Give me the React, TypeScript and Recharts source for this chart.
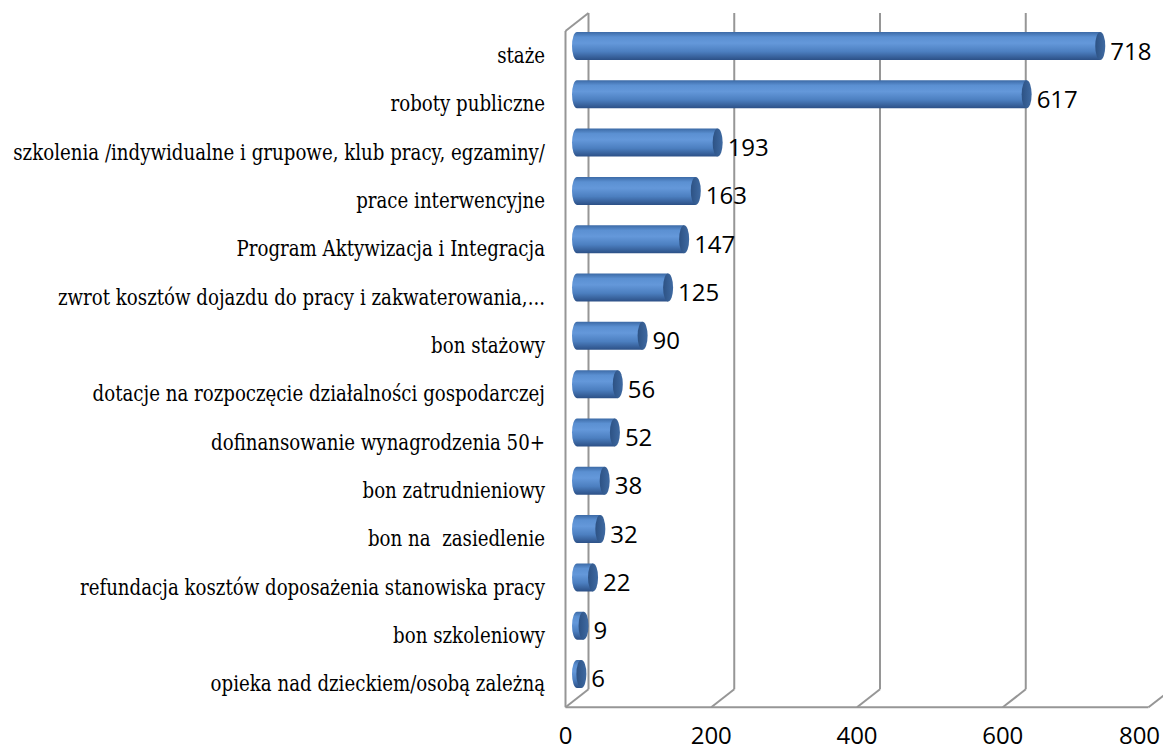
import { BarChart, Bar, XAxis, YAxis, CartesianGrid, LabelList } from "recharts";

const categories = [
  "staże",
  "roboty publiczne",
  "szkolenia /indywidualne i grupowe, klub pracy, egzaminy/",
  "prace interwencyjne",
  "Program Aktywizacja i Integracja",
  "zwrot kosztów dojazdu do pracy i zakwaterowania,...",
  "bon stażowy",
  "dotacje na rozpoczęcie działalności gospodarczej",
  "dofinansowanie wynagrodzenia 50+",
  "bon zatrudnieniowy",
  "bon na  zasiedlenie",
  "refundacja kosztów doposażenia stanowiska pracy",
  "bon szkoleniowy",
  "opieka nad dzieckiem/osobą zależną",
];
const values = [718, 617, 193, 163, 147, 125, 90, 56, 52, 38, 32, 22, 9, 6];
const xTicks = [0, 200, 400, 600, 800];

const data = categories.map((name, i) => ({ name, value: values[i] }));

// half of the 3D depth offset
const DX = 11.5;
const DY = 9;
const GRID = "#969696";
const NUM_FONT = "'Open Sans', sans-serif";
const CAT_FONT = "'DejaVu Serif', serif";

const Cylinder = (props: any) => {
  const { x, y, width, height } = props;
  const rx = 5;
  const ry = height / 2;
  const x1 = x + width;
  const d = `M${x},${y} L${x1},${y} L${x1},${y + height} L${x},${y + height} A${rx},${ry} 0 0 1 ${x},${y} Z`;
  return (
    <g>
      <path d={d} fill="url(#cylBody)" />
      <ellipse cx={x1} cy={y + ry} rx={rx} ry={ry} fill="url(#cylCap)" />
    </g>
  );
};

const ValueLabel = (props: any) => {
  const { x, y, width, height, value } = props;
  return (
    <text
      x={x + width + 10}
      y={y + height / 2 + 4}
      dominantBaseline="central"
      fontFamily={NUM_FONT}
      fontSize={24}
      fill="#000"
    >
      {value}
    </text>
  );
};

const GridLine = (p: any) => {
  const { x1, y1, y2, index, x, width } = p;
  return (
    <g key={`grid-${index}`}>
      <line x1={x1 + DX} y1={y1 - DY} x2={x1 + DX} y2={y2 - DY} stroke={GRID} strokeWidth={2} />
      <line x1={x1 + DX} y1={y2 - DY} x2={x1 - DX} y2={y2 + DY} stroke={GRID} strokeWidth={2} />
      {index === 0 && (
        <>
          <line x1={x1 - DX} y1={y1 + DY} x2={x1 - DX} y2={y2 + DY} stroke={GRID} strokeWidth={2} />
          <line x1={x1 - DX} y1={y1 + DY} x2={x1 + DX} y2={y1 - DY} stroke={GRID} strokeWidth={2} />
          <line x1={x - DX} y1={y2 + DY} x2={x + width - DX} y2={y2 + DY} stroke={GRID} strokeWidth={2} />
        </>
      )}
    </g>
  );
};

const CategoryTick = (props: any) => {
  const { x, y, payload } = props;
  // the source font is taller than it is wide, so stretch a little vertically
  return (
    <g transform={`translate(${x - 32}, ${y + DY + 1}) scale(1, 1.18)`}>
      <text
        x={0}
        y={0}
        textAnchor="end"
        dominantBaseline="central"
        fontFamily={CAT_FONT}
        fontSize={18.2}
        fill="#000"
        style={{ whiteSpace: "pre" }}
      >
        {payload.value}
      </text>
    </g>
  );
};

const ValueTick = (props: any) => {
  const { x, y, payload } = props;
  return (
    <text
      x={x - DX}
      y={y + 36}
      textAnchor="middle"
      dominantBaseline="central"
      fontFamily={NUM_FONT}
      fontSize={24}
      fill="#000"
    >
      {payload.value}
    </text>
  );
};

export default function App() {
  return (
    <div style={{ position: "absolute", left: 0, top: 0, background: "#fff" }}>
      <BarChart
        width={1163}
        height={751}
        data={data}
        layout="vertical"
        margin={{ top: 22, right: 3, left: 0, bottom: 22.7 }}
        barSize={28}
      >
        <defs>
          <linearGradient id="cylBody" x1="0" y1="0" x2="0" y2="1">
            <stop offset="0%" stopColor="#3c6aa6" />
            <stop offset="18%" stopColor="#5b90d2" />
            <stop offset="40%" stopColor="#6498da" />
            <stop offset="70%" stopColor="#4c7fc0" />
            <stop offset="100%" stopColor="#2c5086" />
          </linearGradient>
          <linearGradient id="cylCap" x1="0" y1="0" x2="1" y2="0">
            <stop offset="0%" stopColor="#2d5284" />
            <stop offset="100%" stopColor="#3f6aa2" />
          </linearGradient>
        </defs>
        <CartesianGrid horizontal={false} vertical={GridLine} />
        <XAxis
          type="number"
          domain={[0, 800]}
          ticks={xTicks}
          axisLine={false}
          tickLine={false}
          tickSize={0}
          tickMargin={0}
          height={30}
          tick={ValueTick}
        />
        <YAxis
          type="category"
          dataKey="name"
          width={577}
          axisLine={false}
          tickLine={false}
          tickSize={0}
          tickMargin={0}
          interval={0}
          tick={CategoryTick}
        />
        <Bar dataKey="value" shape={Cylinder} isAnimationActive={false}>
          <LabelList dataKey="value" content={ValueLabel} />
        </Bar>
      </BarChart>
    </div>
  );
}
